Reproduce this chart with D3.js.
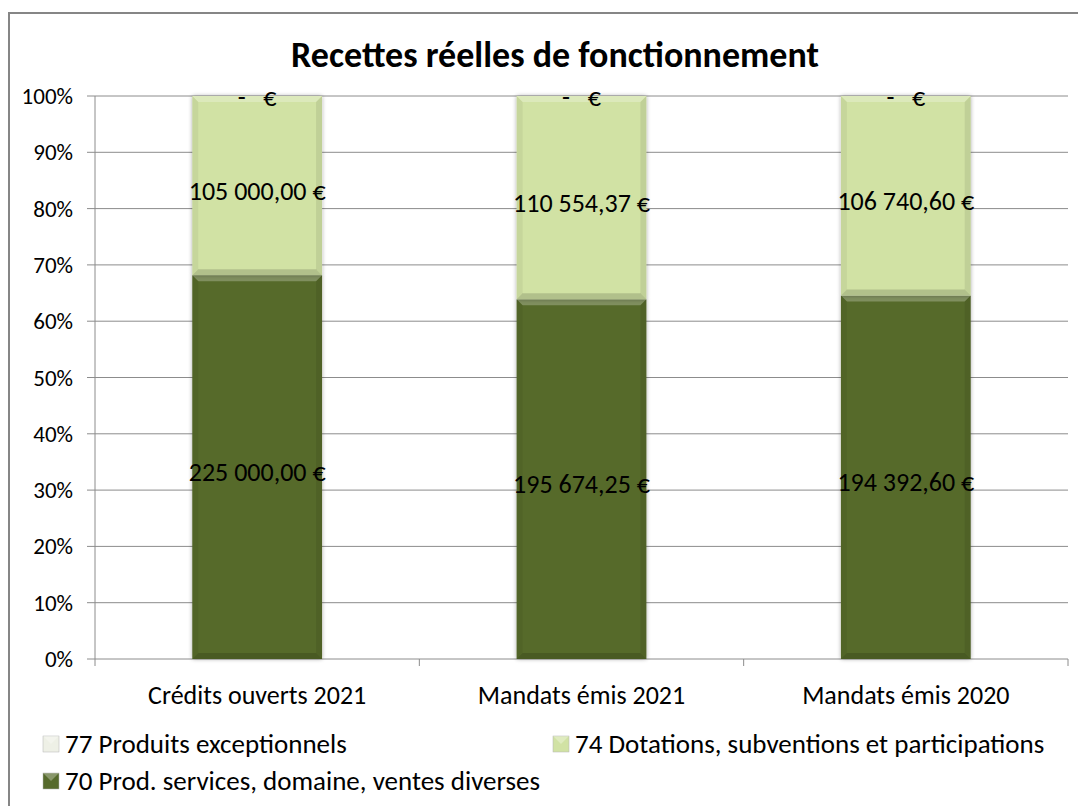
<!DOCTYPE html>
<html>
<head>
<meta charset="utf-8">
<script src="https://cdn.jsdelivr.net/npm/d3@7"></script>
<style>
  body { margin: 0; background: #fff; }
  svg text { font-family: Carlito, Calibri, Lato, sans-serif; fill: #000; }
</style>
</head>
<body>
<svg id="chart" width="1078" height="806"></svg>
<script>
// data
const categories = ["Crédits ouverts 2021", "Mandats émis 2021", "Mandats émis 2020"];
const s70 = [225000.00, 195674.25, 194392.60];
const s74 = [105000.00, 110554.37, 106740.60];
const s77 = [0, 0, 0];
const seriesNames = ["70 Prod. services, domaine, ventes diverses", "74 Dotations, subventions et participations", "77 Produits exceptionnels"];
const seriesColors = ["#566a2c", "#d1e2a4", "#eef0e6"];
const yTicks = [0, 0.1, 0.2, 0.3, 0.4, 0.5, 0.6, 0.7, 0.8, 0.9, 1];

// layout
const plot = {left: 95, right: 1068, top: 96, bottom: 659};

const svg = d3.select("#chart");

// frame
svg.append("rect")
  .attr("x", 9).attr("y", 13)
  .attr("width", 1078).attr("height", 820)
  .attr("fill", "#fff").attr("stroke", "#868686").attr("stroke-width", 2);

// drop shadow filter
const defs = svg.append("defs");
const f = defs.append("filter").attr("id", "shadow")
  .attr("x", "-10%").attr("y", "-10%").attr("width", "120%").attr("height", "120%");
f.append("feGaussianBlur").attr("in", "SourceAlpha").attr("stdDeviation", 2);
f.append("feOffset").attr("dx", 0).attr("dy", 0).attr("result", "b");
f.append("feComponentTransfer").append("feFuncA").attr("type", "linear").attr("slope", 0.35);
const m = f.append("feMerge");
m.append("feMergeNode");
m.append("feMergeNode").attr("in", "SourceGraphic");

// title
svg.append("text")
  .attr("x", 555).attr("y", 67)
  .attr("text-anchor", "middle")
  .style("font-size", "36px").style("font-weight", "bold")
  .text("Recettes réelles de fonctionnement");

const x = d3.scaleBand().domain(categories).range([plot.left, plot.right]).paddingInner(0).paddingOuter(0);
const y = d3.scaleLinear().domain([0, 1]).range([plot.bottom, plot.top]);

// gridlines
svg.append("g").selectAll("line").data(yTicks).join("line")
  .attr("x1", plot.left - 8).attr("x2", plot.right)
  .attr("y1", d => y(d)).attr("y2", d => y(d))
  .attr("stroke", "#8c8c8c").attr("stroke-width", 1);

// y axis line
svg.append("line")
  .attr("x1", plot.left).attr("x2", plot.left)
  .attr("y1", plot.top).attr("y2", plot.bottom)
  .attr("stroke", "#8c8c8c");

// y tick labels
svg.append("g").selectAll("text").data(yTicks).join("text")
  .attr("x", plot.left - 22).attr("y", d => y(d))
  .attr("dy", "0.35em")
  .attr("text-anchor", "end")
  .style("font-size", "23px")
  .text(d => d3.format(".0%")(d));

// x axis ticks
const xTickPos = [plot.left].concat(categories.map(c => x(c) + x.bandwidth()));
svg.append("g").selectAll("line").data(xTickPos).join("line")
  .attr("x1", d => d).attr("x2", d => d)
  .attr("y1", plot.bottom).attr("y2", plot.bottom + 7)
  .attr("stroke", "#8c8c8c");

// x labels
svg.append("g").selectAll("text").data(categories).join("text")
  .attr("x", d => x(d) + x.bandwidth() / 2).attr("y", 695)
  .attr("dy", "0.35em")
  .attr("text-anchor", "middle")
  .style("font-size", "26px")
  .text(d => d);

// stacked data
const rows = categories.map((c, i) => ({cat: c, s70: s70[i], s74: s74[i], s77: s77[i]}));
const stack = d3.stack().keys(["s70", "s74", "s77"]).offset(d3.stackOffsetExpand);
const layers = stack(rows);

const barW = x.bandwidth() * 0.4;
const fmtNum = d3.formatLocale({decimal: ",", thousands: " ", grouping: [3], currency: ["", " €"]}).format(",.2f");
const fmtEur = v => v === 0 ? "-   €" : fmtNum(v) + " €";

layers.forEach((layer, li) => {
  const g = svg.append("g");
  layer.forEach(d => {
    const x0 = x(d.data.cat) + (x.bandwidth() - barW) / 2;
    const yTop = y(d[1]), yBot = y(d[0]);
    const h = yBot - yTop;
    if (h <= 0.5) return;
    g.append("rect")
      .attr("x", x0).attr("y", yTop).attr("width", barW).attr("height", h)
      .attr("fill", seriesColors[li])
      .attr("filter", "url(#shadow)");
    // bevel: light top strip, dark bottom strip
    const bv = 6;
    g.append("path")
      .attr("d", `M${x0},${yTop} L${x0 + barW},${yTop} L${x0 + barW - bv},${yTop + bv} L${x0 + bv},${yTop + bv} Z`)
      .attr("fill", "#fff").attr("opacity", 0.25);
    g.append("path")
      .attr("d", `M${x0},${yBot} L${x0 + barW},${yBot} L${x0 + barW - bv},${yBot - bv} L${x0 + bv},${yBot - bv} Z`)
      .attr("fill", "#000").attr("opacity", 0.15);
    g.append("path")
      .attr("d", `M${x0},${yTop} L${x0 + bv},${yTop + bv} L${x0 + bv},${yBot - bv} L${x0},${yBot} Z`)
      .attr("fill", "#000").attr("opacity", 0.05);
    g.append("path")
      .attr("d", `M${x0 + barW},${yTop} L${x0 + barW - bv},${yTop + bv} L${x0 + barW - bv},${yBot - bv} L${x0 + barW},${yBot} Z`)
      .attr("fill", "#000").attr("opacity", 0.08);
  });
});

// data labels
layers.forEach((layer, li) => {
  const key = layer.key;
  svg.append("g").selectAll("text").data(layer).join("text")
    .attr("x", d => x(d.data.cat) + x.bandwidth() / 2)
    .attr("y", d => li === 2 ? y(d[1]) + 1 : y((d[0] + d[1]) / 2) + 5)
    .attr("dy", "0.35em")
    .attr("text-anchor", "middle")
    .style("font-size", "26px")
    .style("white-space", "pre")
    .text(d => fmtEur(d.data[key]));
});

// legend
const legend = [
  {name: seriesNames[2], color: seriesColors[2], x: 43, y: 744},
  {name: seriesNames[1], color: seriesColors[1], x: 553, y: 744},
  {name: seriesNames[0], color: seriesColors[0], x: 43, y: 781}
];
const lg = svg.append("g").selectAll("g").data(legend).join("g")
  .attr("transform", d => `translate(${d.x},${d.y})`);
lg.append("rect")
  .attr("x", 0).attr("y", -8).attr("width", 16).attr("height", 16)
  .attr("fill", d => d.color).attr("stroke", "#b5b5b5").attr("stroke-width", 0.5);
lg.append("path")
  .attr("d", "M0,-8 L16,-8 L8,0 Z")
  .attr("fill", "#fff").attr("opacity", 0.3);
lg.append("text")
  .attr("x", 22).attr("y", 0).attr("dy", "0.35em")
  .style("font-size", "27px")
  .text(d => d.name);
</script>
</body>
</html>
